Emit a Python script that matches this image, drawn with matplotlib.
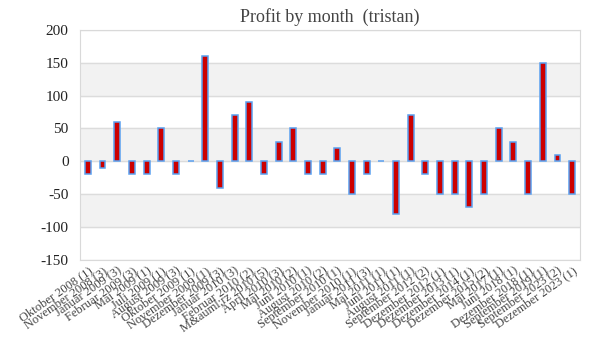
import numpy as np
import matplotlib.pyplot as plt

plt.rcParams['font.family'] = ['Liberation Serif', 'DejaVu Serif']
plt.rcParams['axes.unicode_minus'] = False

months = [
    'Oktober 2008 (1)', 'November 2008 (3)', 'Januar 2009 (3)', 'Februar 2009 (3)',
    'Mai 2009 (1)', 'Juli 2009 (1)', 'August 2009 (3)', 'Oktober 2009 (1)',
    'November 2009 (1)', 'Dezember 2009 (3)', 'Januar 2010 (3)', 'Februar 2010 (2)',
    'M&auml;rz 2010 (5)', 'April 2010 (3)', 'Mai 2010 (2)', 'Juni 2010 (1)',
    'August 2010 (2)', 'September 2010 (1)', 'November 2010 (1)', 'Januar 2011 (3)',
    'Mai 2011 (1)', 'Juni 2011 (1)', 'August 2011 (1)', 'September 2012 (2)',
    'Dezember 2012 (1)', 'Dezember 2013 (1)', 'Dezember 2014 (1)', 'Dezember 2015 (2)',
    'Mai 2017 (1)', 'Juni 2018 (1)', 'Dezember 2018 (1)', 'September 2019 (1)',
    'September 2023 (2)', 'Dezember 2023 (1)',
]
profit = [-20, -10, 60, -20, -20, 50, -20, 0, 160, -40, 70, 90, -20, 30, 50, -20,
          -20, 20, -50, -20, 0, -80, 70, -20, -50, -50, -70, -50, 50, 30, -50, 150,
          10, -50]

fig = plt.figure(figsize=(6, 3.6), dpi=100)
ax = fig.add_axes([0.133, 0.278, 0.834, 0.639])

# alternating background bands
for lo in (-100, 0, 100):
    ax.axhspan(lo, lo + 50, color='#f2f2f2', zorder=0)

x = np.arange(len(months))
ax.bar(x, profit, width=0.4, color='#cc0000', edgecolor='#5aa0f0', linewidth=1.1, zorder=3)

ax.set_ylim(-150, 200)
ax.set_yticks(np.arange(-150, 201, 50))
ax.set_xlim(-0.55, len(months) - 0.45)
ax.grid(axis='y', color='#dcdcdc', linewidth=1, zorder=1)
ax.set_axisbelow(True)
for s in ax.spines.values():
    s.set_color('#d9d9d9')

ax.set_xticks(x)
ax.set_xticklabels(months, rotation=35, ha='right', rotation_mode='anchor',
                   fontsize=9, color='#444444')
ax.tick_params(axis='both', length=0)
ax.tick_params(axis='y', labelsize=11, colors='#222222', pad=8)

ax.set_title('Profit by month  (tristan)', fontsize=13, color='#444444', pad=6)

fig.savefig('out.png', dpi=100)
